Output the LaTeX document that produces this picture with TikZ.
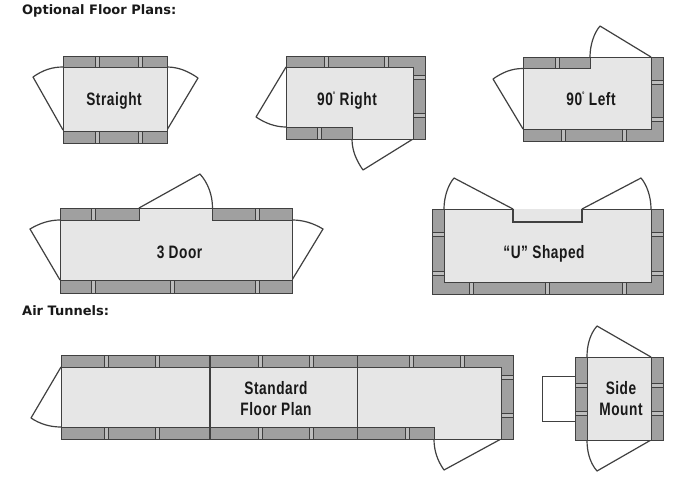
\documentclass[tikz,border=0pt]{standalone}
\usepackage{fontspec}
\newfontfamily\labelfont[FakeStretch=0.76,LetterSpace=3]{Liberation Sans}
\newfontfamily\headfont{DejaVu Sans}
\definecolor{wallc}{HTML}{A0A0A0}
\definecolor{roomc}{HTML}{E6E6E6}
\definecolor{linec}{HTML}{404040}
\tikzset{
  wall/.style={fill=wallc,draw=linec,line width=0.9pt,line join=miter},
  room/.style={fill=roomc,draw=linec,line width=1pt,line join=miter},
  door/.style={draw=linec,line width=1.2pt,line join=round},
  seam/.style={fill=wallc!70!white,draw=linec,line width=1pt},
  lbl/.style={font=\labelfont\bfseries\fontsize{18}{21.5}\selectfont,text=black!90,align=center,inner sep=0pt,anchor=base},
  lblm/.style={lbl,anchor=center},
  head/.style={font=\headfont\bfseries\fontsize{13}{15}\selectfont,text=black!90,anchor=west,inner sep=0pt}
}
\newcommand{\vs}[3]{\draw[seam] (#1-2,#2) rectangle (#1+2,#3);}
\newcommand{\hs}[3]{\draw[seam] (#2,#1-2) rectangle (#3,#1+2);}
\begin{document}
\begin{tikzpicture}[x=1pt,y=-1pt]
\useasboundingbox (0,0) rectangle (680,480);
\fill[white] (0,0) rectangle (680,480);
\node[head] (h1) at (22,11) {Optional Floor Plans:};
\node[head] (h2) at (22,311) {Air Tunnels:};

% Straight
\draw[door] (63,130) -- (33,77) .. controls (43,70) and (52,67) .. (63,67);
\draw[door] (167,130) -- (198,78) .. controls (188,71) and (178,67) .. (167,67);
\draw[wall] (63,56) rectangle (167,143.5);
\foreach \x in {97,140}{\vs{\x}{56}{67}\vs{\x}{131}{143.5}}
\draw[room] (63,67) rectangle (167,131);
\node[lbl] (straight) at (114,105) {Straight};

% 90 Right
\draw[door] (286,67) -- (256,117) .. controls (265,123) and (275,127) .. (286,127);
\draw[door] (413,139) -- (363,170) .. controls (356,160) and (352,150) .. (352,139);
\draw[wall] (286,56) rectangle (425,139.5);
\foreach \x in {326,386}{\vs{\x}{56}{67}}
\vs{319}{127}{139.5}
\foreach \y in {77,115}{\hs{\y}{413}{425}}
\draw[room] (286,67) -- (413,67) -- (413,139.5) -- (352,139.5) -- (352,127) -- (286,127) -- cycle;
\node[lbl] (right) at (347,105) {90\raisebox{0.42em}{\fontsize{8}{8}\selectfont°} Right};

% 90 Left
\draw[door] (523,129) -- (493,79) .. controls (503,72) and (512,68.5) .. (523,68.5);
\draw[door] (651,57) -- (600,26) .. controls (594,33) and (590,45) .. (590,57);
\draw[wall] (523,57) rectangle (663,141);
\vs{557}{57}{68.5}
\foreach \x in {563,624}{\vs{\x}{129}{141}}
\foreach \y in {82,119}{\hs{\y}{651}{663}}
\draw[room] (523,68.5) -- (590,68.5) -- (590,57) -- (651,57) -- (651,129) -- (523,129) -- cycle;
\node[lbl] (left) at (591,105) {90\raisebox{0.42em}{\fontsize{8}{8}\selectfont°} Left};

% 3 Door
\draw[door] (60,280) -- (30,229) .. controls (40,223) and (50,220) .. (60,220);
\draw[door] (292,280) -- (323,229) .. controls (313,223) and (303,220) .. (292,220);
\draw[door] (139,208) -- (200,174) .. controls (208,183) and (212.5,195) .. (212.5,208);
\draw[wall] (60,208) rectangle (292,293);
\foreach \x in {93,257}{\vs{\x}{208}{220}\vs{\x}{280}{293}}
\vs{172}{280}{293}
\draw[room] (60,220) -- (139,220) -- (139,208) -- (212.5,208) -- (212.5,220) -- (292,220) -- (292,280) -- (60,280) -- cycle;
\node[lbl] (threedoor) at (179.5,258) {3 Door};

% U Shaped
\draw[door] (513,209) -- (454,178) .. controls (448,185) and (444,197) .. (444,209);
\draw[door] (582,209) -- (641,178) .. controls (647,185) and (651,197) .. (651,209);
\draw[wall] (432,209) rectangle (663,294);
\foreach \y in {234,273}{\hs{\y}{432}{444}\hs{\y}{651}{663}}
\foreach \x in {471,547,624}{\vs{\x}{282}{294}}
\draw[room] (444,209) rectangle (651,282);
\draw[room,line width=1.4pt] (513,209) -- (513,222) -- (582,222) -- (582,209);
\node[lbl] (ushaped) at (544,258) {“U” Shaped};

% Standard floor plan
\draw[door] (61,367) -- (31,418) .. controls (40,424) and (50,427) .. (61,427);
\draw[door] (501,439) -- (444,470) .. controls (437,460) and (434,450) .. (434,439);
\draw[wall] (61,355) rectangle (513,439);
\foreach \x in {106,157.5,260,311,411,462}{\vs{\x}{355}{367}}
\foreach \x in {106,157.5,260,311,407}{\vs{\x}{427}{439}}
\foreach \y in {377,415}{\hs{\y}{501}{513}}
\draw[room] (61,367) -- (501,367) -- (501,439) -- (434,439) -- (434,427) -- (61,427) -- cycle;
\draw[linec,line width=1.2pt] (210,355) -- (210,439);
\draw[linec,line width=1.2pt] (357.5,355) -- (357.5,439);
\node[lblm] (standard) at (276,398.5) {Standard\\Floor Plan};

% Side Mount
\draw[door] (651,357) -- (597,326) .. controls (590,334) and (587,345) .. (587,357);
\draw[door] (651,440) -- (597,471) .. controls (590,463) and (587,452) .. (587,440);
\draw[draw=linec,line width=1pt,fill=white] (575,376) -- (542,376) -- (542,421) -- (575,421);
\draw[wall] (575,357) rectangle (663,440);
\foreach \y in {385,413}{\hs{\y}{575}{587}\hs{\y}{651}{663}}
\draw[room] (587,357) rectangle (651,440);
\node[lblm] (side) at (621,398.5) {Side\\Mount};
\end{tikzpicture}
\end{document}
